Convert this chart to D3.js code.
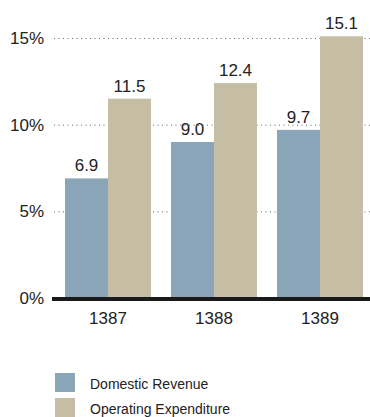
<!DOCTYPE html>
<html><head><meta charset="utf-8">
<script src="https://cdn.jsdelivr.net/npm/d3@7"></script>
<style>
html,body{margin:0;padding:0;background:#fff;}
svg{display:block;}
text{font-family:"Liberation Sans Narrow","Liberation Sans",Arial,sans-serif;fill:#222;}
</style></head>
<body>
<svg id="c" width="370" height="417"></svg>
<script>
const years = ["1387","1388","1389"];
const seriesNames = ["Domestic Revenue","Operating Expenditure"];
const domesticRevenue = [6.9, 9.0, 9.7];
const operatingExpenditure = [11.5, 12.4, 15.1];
const yTicks = [0, 5, 10, 15];
const colors = ["#8ba5b8", "#c5bea5"];

const svg = d3.select("#c");
const y = d3.scaleLinear().domain([0, 15]).range([298, 38]);
const x0 = d3.scaleBand().domain(years).range([55, 373]).paddingInner(20/106).paddingOuter(10/106);
const x1 = d3.scaleBand().domain(seriesNames).range([0, x0.bandwidth()]);

// gridlines
const grid = svg.append("g");
grid.selectAll("line").data(yTicks.filter(d => d > 0)).join("line")
  .attr("x1", 54).attr("x2", 370)
  .attr("y1", d => y(d) + 0.5).attr("y2", d => y(d) + 0.5)
  .attr("stroke", "#666").attr("stroke-width", 1).attr("stroke-dasharray", "1,3.5");

// y labels
svg.append("g").selectAll("text").data(yTicks).join("text")
  .attr("x", 44).attr("y", d => y(d) + 6)
  .attr("text-anchor", "end").attr("font-size", 17)
  .text(d => d + "%");

const data = years.map((yr, i) => ({year: yr, vals: [domesticRevenue[i], operatingExpenditure[i]]}));
const groups = svg.append("g").selectAll("g").data(data).join("g")
  .attr("transform", d => `translate(${x0(d.year)},0)`);
groups.selectAll("rect").data(d => d.vals.map((v, j) => ({name: seriesNames[j], v, j}))).join("rect")
  .attr("x", d => x1(d.name)).attr("width", x1.bandwidth())
  .attr("y", d => y(d.v)).attr("height", d => y(0) - y(d.v))
  .attr("fill", d => colors[d.j]);
groups.selectAll("text.val").data(d => d.vals.map((v, j) => ({name: seriesNames[j], v, j}))).join("text")
  .attr("class", "val")
  .attr("x", d => x1(d.name) + x1.bandwidth() / 2).attr("y", d => y(d.v) - 7)
  .attr("text-anchor", "middle").attr("font-size", 17)
  .text(d => d.v.toFixed(1));

// baseline
svg.append("line").attr("x1", 52).attr("x2", 370).attr("y1", y(0) + 1).attr("y2", y(0) + 1)
  .attr("stroke", "#1a1a1a").attr("stroke-width", 4);

// x labels
svg.append("g").selectAll("text").data(years).join("text")
  .attr("x", d => x0(d) + x0.bandwidth() / 2).attr("y", 324)
  .attr("text-anchor", "middle").attr("font-size", 17)
  .text(d => d);

// legend
const lg = svg.append("g").selectAll("g").data(seriesNames).join("g")
  .attr("transform", (d, i) => `translate(55,${373 + i * 25})`);
lg.append("rect").attr("width", 20).attr("height", 19).attr("fill", (d, i) => colors[i]);
lg.append("text").attr("x", 35).attr("y", 16).attr("font-size", 14).text(d => d);
</script>
</body></html>
